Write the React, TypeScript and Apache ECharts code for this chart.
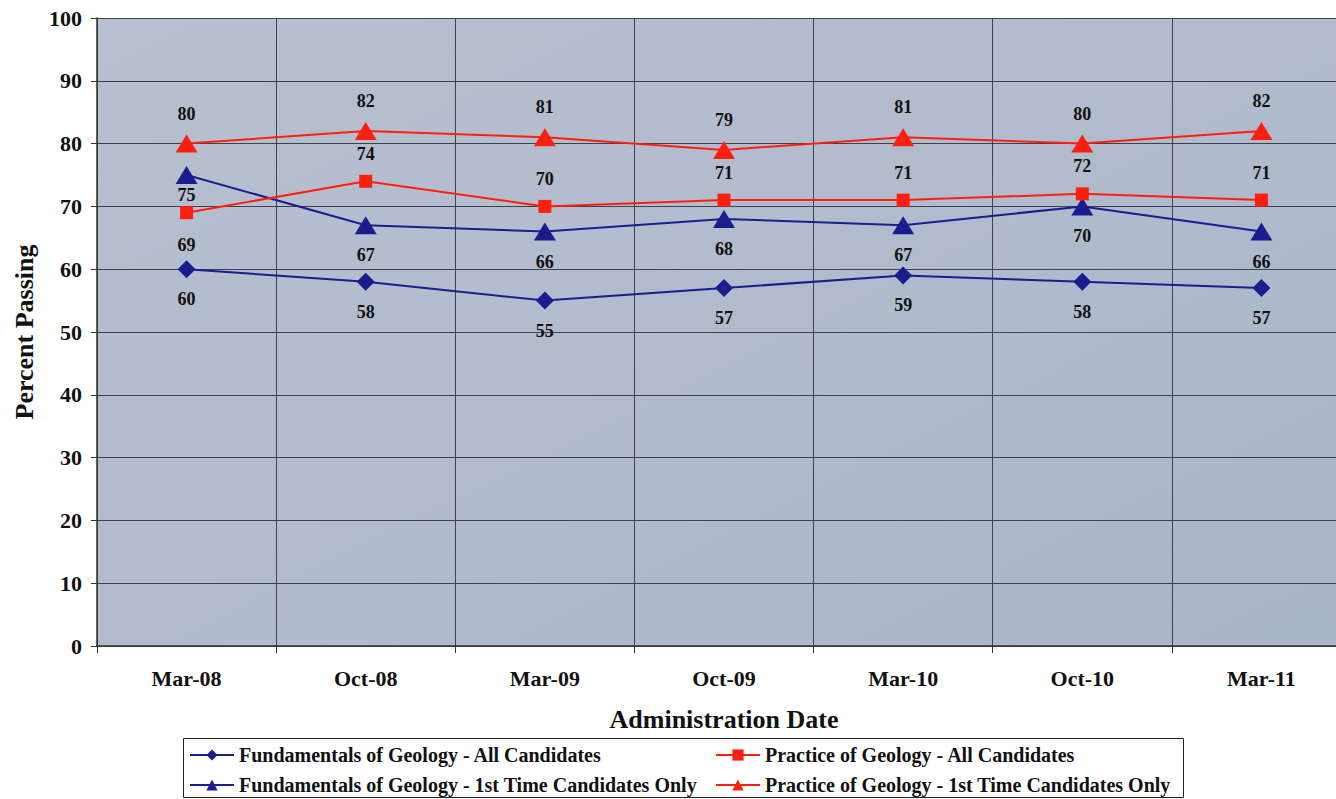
import React, { useEffect, useRef } from "react";
import * as echarts from "echarts";

const categories = ["Mar-08", "Oct-08", "Mar-09", "Oct-09", "Mar-10", "Oct-10", "Mar-11"];
const fundAll = [60, 58, 55, 57, 59, 58, 57];
const fundFirst = [75, 67, 66, 68, 67, 70, 66];
const pracAll = [69, 74, 70, 71, 71, 72, 71];
const pracFirst = [80, 82, 81, 79, 81, 80, 82];
const yTicks = [0, 10, 20, 30, 40, 50, 60, 70, 80, 90, 100];

const NAVY = "#1c1c8e";
const RED = "#ff1f0f";
const FONT = "Liberation Serif";

export default function App() {
  const ref = useRef<HTMLDivElement>(null);
  useEffect(() => {
    document.body.style.margin = "0";
    document.body.style.overflow = "hidden";
    const chart = echarts.init(ref.current!, null, { renderer: "svg" });
    const lbl = (pos: string, distance = 12) => ({
      show: true,
      position: pos,
      distance,
      color: "#111",
      fontFamily: FONT,
      fontWeight: "bold",
      fontSize: 18,
    });
    const names = [
      "Fundamentals of Geology - All Candidates",
      "Fundamentals of Geology - 1st Time Candidates Only",
      "Practice of Geology - All Candidates",
      "Practice of Geology - 1st Time Candidates Only",
    ];
    const legendText = { fontFamily: FONT, fontWeight: "bold", fontSize: 20, color: "#111" };
    const legendBase = {
      orient: "vertical",
      top: 745,
      width: 520,
      height: 120,
      padding: 0,
      itemWidth: 44,
      itemHeight: 14,
      itemGap: 10,
      textStyle: legendText,
    };
    chart.setOption({
      animation: false,
      backgroundColor: "#fff",
      textStyle: { fontFamily: FONT },
      grid: { left: 97, top: 18, width: 1254, height: 628, containLabel: false },
      graphic: [
        {
          type: "rect",
          shape: { x: 97, y: 18, width: 1254, height: 628 },
          style: {
            fill: new echarts.graphic.LinearGradient(0, 0, 1, 1, [
              { offset: 0, color: "#b8c0cf" },
              { offset: 0.5, color: "#b1bbcc" },
              { offset: 1, color: "#a9b5cb" },
            ]),
          },
          z: -10,
          silent: true,
        },
        {
          type: "rect",
          shape: { x: 183.5, y: 738.5, width: 1000, height: 59 },
          style: { fill: "#fff", stroke: "#222", lineWidth: 1 },
          z: -5,
          silent: true,
        },
      ],
      xAxis: {
        type: "category",
        data: categories,
        boundaryGap: true,
        name: "Administration Date",
        nameLocation: "middle",
        nameGap: 60,
        nameTextStyle: { fontFamily: FONT, fontWeight: "bold", fontSize: 26, color: "#111" },
        axisLine: { lineStyle: { color: "#333", width: 1.5 } },
        axisTick: { show: true, length: 7, lineStyle: { color: "#333" } },
        axisLabel: { margin: 21, fontFamily: FONT, fontWeight: "bold", fontSize: 22, color: "#111" },
        splitLine: { show: true, lineStyle: { color: "#3c4250", width: 1 } },
      },
      yAxis: {
        type: "value",
        min: 0,
        max: 100,
        interval: 10,
        name: "Percent Passing",
        nameLocation: "middle",
        nameGap: 60,
        nameRotate: 90,
        nameTextStyle: { fontFamily: FONT, fontWeight: "bold", fontSize: 26, color: "#111" },
        axisLine: { show: true, lineStyle: { color: "#333", width: 1.5 } },
        axisTick: { show: true, length: 6, lineStyle: { color: "#333" } },
        axisLabel: {
          margin: 15,
          fontFamily: FONT,
          fontWeight: "bold",
          fontSize: 22,
          color: "#111",
          formatter: (v: number) => (yTicks.includes(v) ? String(v) : ""),
        },
        splitLine: { show: true, lineStyle: { color: "#3c4250", width: 1 } },
      },
      legend: [
        { ...legendBase, data: [names[0], names[1]], left: 189 },
        { ...legendBase, data: [names[2], names[3]], left: 715 },
      ],
      series: [
        {
          name: names[0],
          type: "line",
          data: fundAll,
          color: NAVY,
          symbol: "diamond",
          symbolSize: 18,
          lineStyle: { width: 2, color: NAVY },
          itemStyle: { color: NAVY },
          label: lbl("bottom"),
        },
        {
          name: names[1],
          type: "line",
          data: fundFirst.map((v, i) => (i === 0 ? { value: v, label: lbl("bottom", 2) } : v)),
          color: NAVY,
          symbol: "triangle",
          symbolSize: [22, 18],
          lineStyle: { width: 2, color: NAVY },
          itemStyle: { color: NAVY },
          label: lbl("bottom"),
        },
        {
          name: names[2],
          type: "line",
          data: pracAll.map((v, i) => (i === 0 ? { value: v, label: lbl("bottom", 17) } : v)),
          color: RED,
          symbol: "rect",
          symbolSize: 13,
          lineStyle: { width: 2, color: RED },
          itemStyle: { color: RED },
          label: lbl("top"),
        },
        {
          name: names[3],
          type: "line",
          data: pracFirst,
          color: RED,
          symbol: "triangle",
          symbolSize: [22, 18],
          lineStyle: { width: 2, color: RED },
          itemStyle: { color: RED },
          label: lbl("top"),
        },
      ],
    });
    return () => chart.dispose();
  }, []);
  return <div ref={ref} style={{ position: "fixed", left: 0, top: 0, width: 1352, height: 799 }} />;
}
